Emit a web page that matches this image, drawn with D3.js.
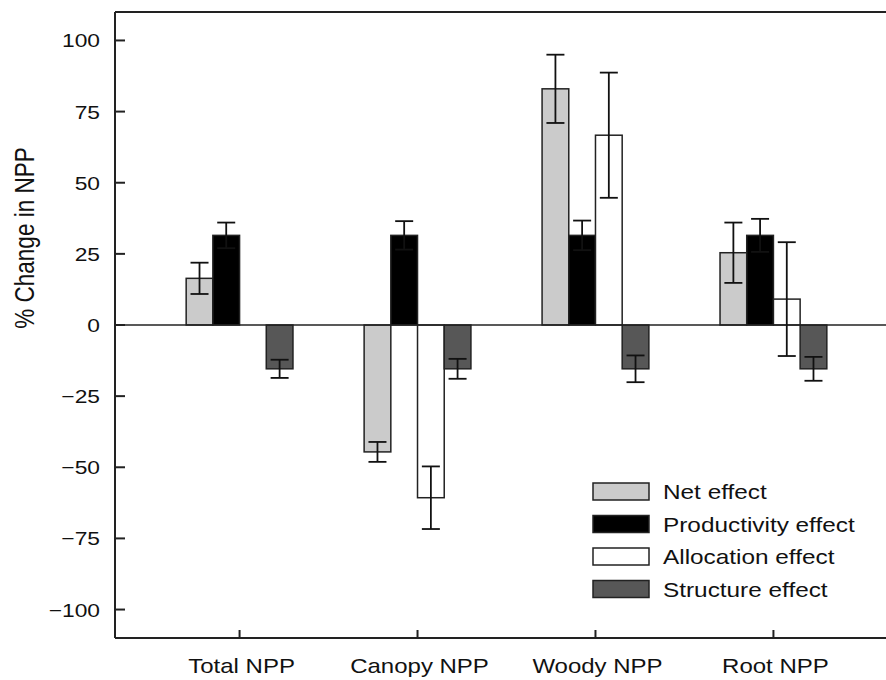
<!DOCTYPE html>
<html>
<head>
<meta charset="utf-8">
<script src="https://cdn.jsdelivr.net/npm/d3@7"></script>
<style>
	body { margin: 0; background: #fff; }
	svg { display: block; font-family: "Liberation Sans", Arial, sans-serif; }
</style>
</head>
<body>
<div id="chart"></div>
<script>
// data
const categories = ['Total NPP', 'Canopy NPP', 'Woody NPP', 'Root NPP'];
const seriesNames = ['Net effect', 'Productivity effect', 'Allocation effect', 'Structure effect'];
const seriesColors = ['#cbcbcb', '#000000', '#ffffff', '#575757'];

// value per category, one array per series
const netEffect = [16.4, -44.6, 83.0, 25.4];
const productivityEffect = [31.5, 31.5, 31.5, 31.5];
const allocationEffect = [0, -60.7, 66.7, 9.1];
const structureEffect = [-15.4, -15.4, -15.4, -15.4];

// error bar half-widths
const netErr = [5.5, 3.5, 12.0, 10.6];
const productivityErr = [4.5, 5.0, 5.2, 5.8];
const allocationErr = [0, 11.0, 22.0, 20.0];
const structureErr = [3.2, 3.5, 4.7, 4.2];

const yTicks = [-100, -75, -50, -25, 0, 25, 50, 75, 100];

const width = 886, height = 680;
const margins = { left: 115, top: 12, bottom: 42 };
const xStretch = 1.2; // the figure's lettering is a bit wide

const values = [netEffect, productivityEffect, allocationEffect, structureEffect];
const errors = [netErr, productivityErr, allocationErr, structureErr];

const svg = d3.select('#chart').append('svg')
	.attr('width', width)
	.attr('height', height);

const x = d3.scalePoint()
	.domain(categories)
	.range([margins.left, 898])
	.padding(0.7);

const barW = 26.7;
const xSub = d3.scaleBand()
	.domain(seriesNames)
	.range([-2 * barW, 2 * barW]);

const y = d3.scaleLinear()
	.domain([-110, 110])
	.range([height - margins.bottom, margins.top]);

// flatten into bar records
const bars = [];
seriesNames.forEach((s, si) => {
	categories.forEach((c, ci) => {
		bars.push({ series: s, si: si, cat: c, value: values[si][ci], err: errors[si][ci] });
	});
});

// bars
svg.append('g').attr('class', 'bars')
	.selectAll('rect')
	.data(bars.filter(d => d.value !== 0))
	.join('rect')
	.attr('x', d => x(d.cat) + xSub(d.series))
	.attr('width', xSub.bandwidth())
	.attr('y', d => y(Math.max(0, d.value)))
	.attr('height', d => Math.abs(y(d.value) - y(0)))
	.attr('fill', d => seriesColors[d.si])
	.attr('stroke', '#222')
	.attr('stroke-width', 1.5);

// zero line
svg.append('line')
	.attr('x1', margins.left).attr('x2', width)
	.attr('y1', y(0)).attr('y2', y(0))
	.attr('stroke', '#222').attr('stroke-width', 1.6);

// error bars
const capW = 18;
const eb = svg.append('g').attr('class', 'errorbars')
	.selectAll('g')
	.data(bars.filter(d => d.err > 0))
	.join('g')
	.attr('transform', d => 'translate(' + (x(d.cat) + xSub(d.series) + xSub.bandwidth() / 2) + ',0)')
	.attr('stroke', '#111')
	.attr('stroke-width', 1.8);

eb.append('line')
	.attr('y1', d => y(d.value + d.err))
	.attr('y2', d => y(d.value - d.err));
eb.append('line')
	.attr('x1', -capW / 2).attr('x2', capW / 2)
	.attr('y1', d => y(d.value + d.err)).attr('y2', d => y(d.value + d.err));
eb.append('line')
	.attr('x1', -capW / 2).attr('x2', capW / 2)
	.attr('y1', d => y(d.value - d.err)).attr('y2', d => y(d.value - d.err));

// frame: left, top and bottom lines run off to the right edge
const frame = svg.append('g').attr('stroke', '#222').attr('stroke-width', 2);
frame.append('line')
	.attr('x1', margins.left).attr('x2', margins.left)
	.attr('y1', y.range()[1]).attr('y2', y.range()[0]);
frame.append('line')
	.attr('x1', margins.left).attr('x2', width)
	.attr('y1', y.range()[1]).attr('y2', y.range()[1]);
frame.append('line')
	.attr('x1', margins.left).attr('x2', width)
	.attr('y1', y.range()[0]).attr('y2', y.range()[0]);

// y axis ticks (inside) and labels
const yAxis = svg.append('g').attr('class', 'y-axis');
yAxis.selectAll('line')
	.data(yTicks)
	.join('line')
	.attr('x1', margins.left).attr('x2', margins.left + 10)
	.attr('y1', d => y(d)).attr('y2', d => y(d))
	.attr('stroke', '#222').attr('stroke-width', 2);
yAxis.selectAll('text')
	.data(yTicks)
	.join('text')
	.attr('transform', d => 'translate(100,' + (y(d) + 7) + ') scale(' + xStretch + ',1)')
	.attr('text-anchor', 'end')
	.attr('font-size', 19)
	.attr('fill', '#111')
	.text(d => d < 0 ? '\u2212' + Math.abs(d) : d);

// x axis ticks (inside) and labels
const xAxis = svg.append('g').attr('class', 'x-axis');
xAxis.selectAll('line')
	.data(categories)
	.join('line')
	.attr('x1', d => x(d)).attr('x2', d => x(d))
	.attr('y1', y.range()[0]).attr('y2', y.range()[0] - 8)
	.attr('stroke', '#222').attr('stroke-width', 2);
xAxis.selectAll('text')
	.data(categories)
	.join('text')
	.attr('transform', d => 'translate(' + (x(d) + 2) + ',673) scale(' + xStretch + ',1)')
	.attr('text-anchor', 'middle')
	.attr('font-size', 20)
	.attr('fill', '#111')
	.text(d => d);

// y axis title
svg.append('text')
	.attr('transform', 'translate(34,238) rotate(-90) scale(1,' + xStretch + ')')
	.attr('text-anchor', 'middle')
	.attr('font-size', 22.5)
	.attr('fill', '#111')
	.text('% Change in NPP');

// legend
const legend = svg.append('g')
	.attr('class', 'legend')
	.attr('transform', 'translate(593,483)');
const item = legend.selectAll('g')
	.data(seriesNames)
	.join('g')
	.attr('transform', (d, i) => 'translate(0,' + i * 32.5 + ')');
item.append('rect')
	.attr('width', 56).attr('height', 17)
	.attr('fill', (d, i) => seriesColors[i])
	.attr('stroke', '#222').attr('stroke-width', 1.5);
item.append('text')
	.attr('transform', 'translate(70,16) scale(' + xStretch + ',1)')
	.attr('font-size', 20.3)
	.attr('fill', '#111')
	.text(d => d);
</script>
</body>
</html>
